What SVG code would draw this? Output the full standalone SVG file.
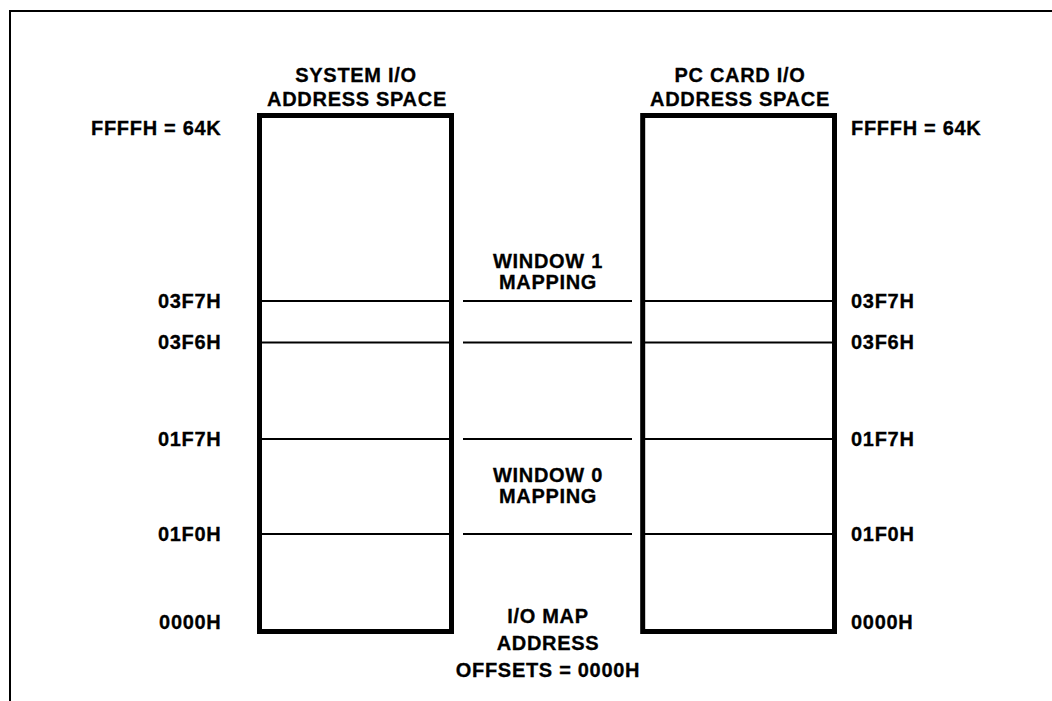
<svg xmlns="http://www.w3.org/2000/svg" width="1052" height="701" viewBox="0 0 1052 701">
<style>
  text { font-family: "Liberation Sans", Arial, sans-serif; font-weight: bold; font-size: 20px; letter-spacing: 0.7px; fill: #000; stroke: #000; stroke-width: 0.3; }
  .mid { text-anchor: middle; }
  .end { text-anchor: end; }
  .box { fill: none; stroke: #000; stroke-width: 5; }
  .div { stroke: #000; stroke-width: 2; }
  .frame { fill: none; stroke: #000; stroke-width: 2; }
</style>
<rect width="1052" height="701" fill="#fff"/>
<path class="frame" d="M10,701 V11 H1052"/>

<g id="system-space">
  <text class="mid" x="356" y="82">SYSTEM I/O</text>
  <text class="mid" x="357" y="106">ADDRESS SPACE</text>
  <rect class="box" x="259.5" y="115.5" width="192" height="516"/>
  <line class="div" x1="262" y1="301" x2="449" y2="301"/>
  <line class="div" x1="262" y1="342.5" x2="449" y2="342.5"/>
  <line class="div" x1="262" y1="439" x2="449" y2="439"/>
  <line class="div" x1="262" y1="534" x2="449" y2="534"/>
</g>

<g id="pccard-space">
  <text class="mid" x="740" y="82">PC CARD I/O</text>
  <text class="mid" x="740" y="106">ADDRESS SPACE</text>
  <rect class="box" x="642.7" y="115.5" width="191.8" height="516"/>
  <line class="div" x1="645" y1="301" x2="832" y2="301"/>
  <line class="div" x1="645" y1="342.5" x2="832" y2="342.5"/>
  <line class="div" x1="645" y1="439" x2="832" y2="439"/>
  <line class="div" x1="645" y1="534" x2="832" y2="534"/>
</g>

<g id="left-labels">
  <text class="end" x="221.5" y="135">FFFFH = 64K</text>
  <text class="end" x="221.5" y="307.5">03F7H</text>
  <text class="end" x="221.5" y="349">03F6H</text>
  <text class="end" x="221.5" y="445.5">01F7H</text>
  <text class="end" x="221.5" y="540.5">01F0H</text>
  <text class="end" x="221.5" y="629">0000H</text>
</g>

<g id="right-labels">
  <text x="851" y="135">FFFFH = 64K</text>
  <text x="851" y="307.5">03F7H</text>
  <text x="851" y="349">03F6H</text>
  <text x="851" y="445.5">01F7H</text>
  <text x="851" y="540.5">01F0H</text>
  <text x="851" y="629">0000H</text>
</g>

<g id="window1">
  <text class="mid" x="548" y="268">WINDOW 1</text>
  <text class="mid" x="548" y="289">MAPPING</text>
</g>

<g id="window0">
  <text class="mid" x="548" y="482">WINDOW 0</text>
  <text class="mid" x="548" y="503">MAPPING</text>
</g>

<g id="offsets">
  <text class="mid" x="548" y="622.5">I/O MAP</text>
  <text class="mid" x="548" y="650">ADDRESS</text>
  <text class="mid" x="548" y="677">OFFSETS = 0000H</text>
</g>

<g id="connectors">
  <line class="div" x1="463" y1="301" x2="632" y2="301"/>
  <line class="div" x1="463" y1="342.5" x2="632" y2="342.5"/>
  <line class="div" x1="463" y1="439" x2="632" y2="439"/>
  <line class="div" x1="463" y1="534" x2="632" y2="534"/>
</g>
</svg>
